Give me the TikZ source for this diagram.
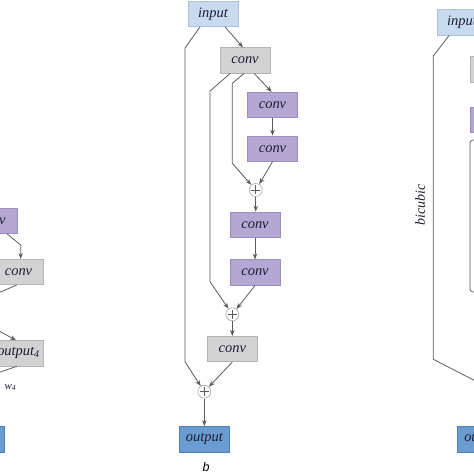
\documentclass[tikz,border=0pt]{standalone}
\usepackage{fontspec}
\setmainfont{Liberation Serif}
\setsansfont{Liberation Sans}
\usetikzlibrary{arrows.meta}
\definecolor{inblue}{HTML}{C8DBEE}
\definecolor{inblueb}{HTML}{A9C3DD}
\definecolor{gfill}{HTML}{D2D2D2}
\definecolor{gbord}{HTML}{B4B4B4}
\definecolor{pfill}{HTML}{B4A7D1}
\definecolor{pbord}{HTML}{9B8EBE}
\definecolor{ofill}{HTML}{6A9CD2}
\definecolor{obord}{HTML}{4F7FB8}
\definecolor{lcol}{HTML}{5A5A5A}
\definecolor{tcol}{HTML}{1C1C34}
\begin{document}
\begin{tikzpicture}[x=1bp,y=-1bp,
  box/.style={rectangle, minimum width=50bp, minimum height=25.5bp, inner sep=0pt,
    font=\fontsize{14.5}{16}\selectfont\itshape, text=tcol, line width=0.6bp},
  inbox/.style={box, fill=inblue, draw=inblueb},
  gbox/.style={box, fill=gfill, draw=gbord},
  pbox/.style={box, fill=pfill, draw=pbord},
  obox/.style={box, fill=ofill, draw=obord},
  plus/.style={circle, draw=gray!70, fill=white, minimum size=13bp, inner sep=0pt, line width=0.6bp,
    path picture={\draw[lcol, line width=0.6bp] (path picture bounding box.center) ++(-4.5,0) -- ++(9,0)
      (path picture bounding box.center) ++(0,-4.5) -- ++(0,9);}},
  ln/.style={draw=lcol, line width=0.8bp},
  arr/.style={ln, -{Stealth[length=6bp,width=4.5bp]}},
  lab/.style={font=\fontsize{14}{16}\selectfont\itshape, text=tcol}]
\useasboundingbox (0,0) rectangle (474,474);

% ---------- middle (b) ----------
\node[inbox] (in) at (213,13.8) {input};
\node[gbox] (c1) at (245,60.5) {conv};
\node[pbox] (p1) at (272.5,105) {conv};
\node[pbox] (p2) at (272.5,148.7) {conv};
\node[plus] (pl1) at (255.7,190) {};
\node[pbox] (p3) at (255,224.7) {conv};
\node[pbox] (p4) at (255,272.5) {conv};
\node[plus] (pl2) at (232.3,314.3) {};
\node[gbox] (c2) at (232.3,349) {conv};
\node[plus] (pl3) at (204.3,391.7) {};
\node[obox] (out) at (204.3,439.2) {output};
\node[font=\fontsize{12.5}{14}\selectfont\sffamily\itshape, text=black] (lb) at (206,467.5) {b};

\draw[arr] ([xshift=-13]in.south) -- (185,48) -- (185,361.7) -- (pl3);
\draw[arr] ([xshift=12]in.south) -- ([xshift=-2]c1.north);
\draw[arr] ([xshift=-15]c1.south) -- (210,91) -- (210,281.7) -- (pl2);
\draw[arr] ([xshift=-1]c1.south) -- (232.3,83.3) -- (232.3,163.3) -- (pl1);
\draw[arr] ([xshift=9.3]c1.south) -- ([xshift=-0.8]p1.north);
\draw[arr] (p1) -- (p2);
\draw[arr] (p2.south) -- (pl1);
\draw[arr] (pl1) -- (pl1 |- p3.north);
\draw[arr] (p3) -- (p4);
\draw[arr] (p4.south) -- (pl2);
\draw[arr] (pl2) -- (pl2 |- c2.north);
\draw[arr] (c2.south) -- (pl3);
\draw[arr] (pl3) -- (out);

% ---------- left (partial) ----------
\node[pbox] (l1) at (-8,221) {conv};
\node[gbox] (l2) at (18.5,272) {conv};
\node[gbox] (o4) at (18.5,353.3) {output\textsubscript{4}};
\node[obox] (lo) at (-21,439.2) {output};
\node[font=\fontsize{11}{12}\selectfont\itshape, text=tcol] (w4) at (10.5,387.5) {w\textsubscript{4}};
\coordinate (la) at (-10,296.4);
\coordinate (lb2) at (-10,326.1);
\coordinate (lc) at (-10,375.6);
\draw[arr] ([xshift=15.3]l1.south) -- (20.7,245) -- ([xshift=2.2]l2.north);
\draw[ln] ([xshift=-1.8]l2.south) -- (la);
\draw[arr] (lb2) -- ([xshift=-2.5]o4.north);
\draw[ln] ([xshift=-1.8]o4.south) -- (lc);

% ---------- right (partial) ----------
\node[inbox] (rin) at (462,22.5) {input};
\node[gbox] (rg) at (495,69.2) {conv};
\node[pbox] (rp) at (495,120) {conv};
\node[draw=lcol, line width=0.8bp, rounded corners=3bp, minimum width=90bp, minimum height=152bp, inner sep=0pt] (rr) at (515,216) {};
\node[obox] (rout) at (482.7,439.2) {output};
\node[lab, rotate=90] (bic) at (420,205) {bicubic};
\coordinate (re) at (500,393.6);
\draw[ln] ([xshift=-13]rin.south) -- (433.3,56) -- (433.3,359.3) -- (re);
\end{tikzpicture}
\end{document}
